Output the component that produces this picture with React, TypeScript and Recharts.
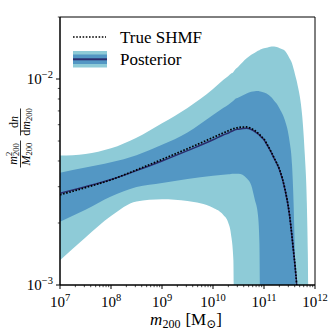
import React from 'react';
import { ComposedChart, Area, Line, XAxis, YAxis, ReferenceArea } from 'recharts';

const SERIF = "'Liberation Serif', 'DejaVu Serif', serif";
const LIGHT = '#8ecbd7';
const MID = '#5397c4';
const NAVY = '#2b2d6e';

// subhalo mass grid [Msun]
const masses = [
  1e7, 3.16e7, 1e8, 3.16e8, 1e9, 3.16e9, 1e10, 1.58e10, 2.0e10, 2.24e10,
  2.51e10, 2.63e10, 3.16e10, 4.57e10, 5.62e10, 6.61e10, 7.59e10, 8.13e10, 8.51e10, 1e11,
  1.12e11, 1.41e11, 1.58e11, 1.78e11, 2.04e11, 2.57e11, 3.16e11, 3.55e11, 3.8e11, 4.07e11,
  4.37e11, 4.57e11, 5.01e11, 5.62e11, 6.31e11, 6.92e11, 7.24e11, 7.59e11, 1e12,
];

// 95% band
const hi95 = [
  4.25e-3, 4.33e-3, 4.61e-3, 5.19e-3, 6.1e-3, 7.24e-3, 8.95e-3, 9.89e-3, 1.035e-2, 1.06e-2,
  1.08e-2, 1.1e-2, 1.15e-2, 1.26e-2, 1.31e-2, 1.34e-2, 1.37e-2, 1.38e-2, 1.39e-2, 1.41e-2,
  1.42e-2, 1.44e-2, 1.44e-2, 1.43e-2, 1.41e-2, 1.37e-2, 1.26e-2, 1.19e-2, 1.12e-2, 1.05e-2,
  9.8e-3, 9.3e-3, 8.3e-3, 6.6e-3, 4.3e-3, 2.5e-3, 1.41e-3, 5e-4, 5e-4,
];
const lo95 = [
  1.32e-3, 1.7e-3, 2.16e-3, 2.54e-3, 2.61e-3, 2.56e-3, 2.37e-3, 2.19e-3, 2.0e-3, 1.78e-3,
  1.32e-3, 5e-4, 5e-4, 5e-4, 5e-4, 5e-4, 5e-4, 5e-4, 5e-4, 5e-4,
  5e-4, 5e-4, 5e-4, 5e-4, 5e-4, 5e-4, 5e-4, 5e-4, 5e-4, 5e-4,
  5e-4, 5e-4, 5e-4, 5e-4, 5e-4, 5e-4, 5e-4, 5e-4, 5e-4,
];

// 68% band
const hi68 = [
  3.51e-3, 3.72e-3, 3.94e-3, 4.27e-3, 4.79e-3, 5.5e-3, 6.68e-3, 7.24e-3, 7.5e-3, 7.67e-3,
  7.85e-3, 7.94e-3, 8.13e-3, 8.51e-3, 8.67e-3, 8.72e-3, 8.75e-3, 8.72e-3, 8.69e-3, 8.61e-3,
  8.51e-3, 8.13e-3, 7.85e-3, 7.59e-3, 7.16e-3, 6.31e-3, 5.01e-3, 3.8e-3, 2.51e-3, 1.26e-3,
  5e-4, 5e-4, 5e-4, 5e-4, 5e-4, 5e-4, 5e-4, 5e-4, 5e-4,
];
const lo68 = [
  2.03e-3, 2.32e-3, 2.69e-3, 2.99e-3, 3.13e-3, 3.27e-3, 3.39e-3, 3.43e-3, 3.45e-3, 3.46e-3,
  3.47e-3, 3.47e-3, 3.47e-3, 3.3e-3, 3.05e-3, 2.59e-3, 2.2e-3, 1.6e-3, 5e-4, 5e-4,
  5e-4, 5e-4, 5e-4, 5e-4, 5e-4, 5e-4, 5e-4, 5e-4, 5e-4, 5e-4,
  5e-4, 5e-4, 5e-4, 5e-4, 5e-4, 5e-4, 5e-4, 5e-4, 5e-4,
];

// posterior median and true SHMF
const median = [
  2.79e-3, 3.0e-3, 3.25e-3, 3.59e-3, 4.0e-3, 4.49e-3, 5.07e-3, 5.35e-3, 5.47e-3, 5.55e-3,
  5.62e-3, 5.65e-3, 5.71e-3, 5.77e-3, 5.69e-3, 5.56e-3, 5.42e-3, 5.35e-3, 5.28e-3, 5.07e-3,
  4.84e-3, 4.37e-3, 4.12e-3, 3.89e-3, 3.59e-3, 2.92e-3, 2.19e-3, 1.7e-3, 1.45e-3, 1.23e-3,
  1.0e-3, 8.3e-4, null, null, null, null, null, null, null,
];
const truth = [
  2.74e-3, 2.97e-3, 3.24e-3, 3.62e-3, 4.07e-3, 4.59e-3, 5.2e-3, 5.47e-3, 5.61e-3, 5.68e-3,
  5.74e-3, 5.75e-3, 5.82e-3, 5.85e-3, 5.75e-3, 5.62e-3, 5.47e-3, 5.4e-3, 5.32e-3, 5.11e-3,
  4.88e-3, 4.39e-3, 4.14e-3, 3.91e-3, 3.61e-3, 2.93e-3, 2.2e-3, 1.71e-3, 1.45e-3, 1.24e-3,
  1.0e-3, 8.3e-4, null, null, null, null, null, null, null,
];

const xTicks = [1e7, 1e8, 1e9, 1e10, 1e11, 1e12].flatMap((d, i, arr) =>
  i < arr.length - 1 ? [d, 2 * d, 3 * d, 4 * d, 5 * d, 6 * d, 7 * d, 8 * d, 9 * d] : [d]
);
const yTicks = [1e-3, 2e-3, 3e-3, 4e-3, 5e-3, 6e-3, 7e-3, 8e-3, 9e-3, 1e-2, 2e-2];

const rows = masses.map((m, i) => ({
  m,
  band95: [lo95[i], hi95[i]],
  band68: [lo68[i], hi68[i]],
  median: median[i],
  truth: truth[i],
}));

const isMajor = (v: number) => {
  const lg = Math.log10(v);
  return Math.abs(lg - Math.round(lg)) < 1e-6;
};

const XTick = (props: any) => {
  const { x, y, payload } = props;
  const major = isMajor(payload.value);
  const exp = Math.round(Math.log10(payload.value));
  return (
    <g>
      <line x1={x} x2={x} y1={y} y2={y + (major ? 4 : 2.2)} stroke="#000" strokeWidth={major ? 1 : 0.7} />
      {major && (
        <text x={x} y={y + 22} textAnchor="middle" fontFamily={SERIF} fontSize={15} fill="#000">
          10<tspan dy={-6} fontSize={10.5}>{exp}</tspan>
        </text>
      )}
    </g>
  );
};

const YTick = (props: any) => {
  const { x, y, payload } = props;
  const major = isMajor(payload.value);
  const exp = Math.round(Math.log10(payload.value));
  return (
    <g>
      <line x1={x} x2={x - (major ? 4 : 2.2)} y1={y} y2={y} stroke="#000" strokeWidth={major ? 1 : 0.7} />
      {major && (
        <text x={x - 7} y={y + 5} textAnchor="end" fontFamily={SERIF} fontSize={15} fill="#000">
          10<tspan dy={-6} fontSize={10.5}>{'\u2212' + Math.abs(exp)}</tspan>
        </text>
      )}
    </g>
  );
};

// y label: (m200^2 / M200) dn/dm200, rotated
const YLabel = () => (
  <g transform="rotate(-90 18.5 138)" fontFamily={SERIF} fill="#000">
    <text x={2.5} y={136} textAnchor="middle" fontSize={12}>
      <tspan fontStyle="italic">m</tspan>
      <tspan fontSize={8.5} dy={-4.5}>2</tspan>
      <tspan fontSize={8.5} dx={-4.3} dy={7}>200</tspan>
    </text>
    <line x1={-11} x2={16} y1={140} y2={140} stroke="#000" strokeWidth={0.8} />
    <text x={2.5} y={149.5} textAnchor="middle" fontSize={12}>
      <tspan fontStyle="italic">M</tspan>
      <tspan fontSize={8.5} dy={2}>200</tspan>
    </text>
    <text x={34.5} y={137} textAnchor="middle" fontSize={12}>
      d<tspan fontStyle="italic">n</tspan>
    </text>
    <line x1={21} x2={48} y1={140} y2={140} stroke="#000" strokeWidth={0.8} />
    <text x={34.5} y={149.5} textAnchor="middle" fontSize={12}>
      d<tspan fontStyle="italic">m</tspan>
      <tspan fontSize={8.5} dy={2}>200</tspan>
    </text>
  </g>
);

export default function App() {
  return (
    <div style={{ position: 'absolute', left: 0, top: 0, width: 332, height: 332, background: '#fff' }}>
      <ComposedChart width={332} height={332} data={rows} margin={{ top: 17, right: 17, bottom: 0, left: 0 }}>
        <XAxis
          dataKey="m"
          type="number"
          scale="log"
          domain={[1e7, 1e12]}
          allowDataOverflow
          ticks={xTicks}
          interval={0}
          tick={(p: any) => <XTick {...p} />}
          tickLine={false}
          tickSize={0}
          tickMargin={0}
          axisLine={{ stroke: '#000', strokeWidth: 1 }}
          height={47}
        />
        <YAxis
          type="number"
          scale="log"
          domain={[1e-3, 2e-2]}
          allowDataOverflow
          ticks={yTicks}
          interval={0}
          tick={(p: any) => <YTick {...p} />}
          tickLine={false}
          tickSize={0}
          tickMargin={0}
          axisLine={{ stroke: '#000', strokeWidth: 1 }}
          width={60}
        />
        <Area type="monotone" dataKey="band95" stroke="none" fill={LIGHT} fillOpacity={1} isAnimationActive={false} />
        <Area type="monotone" dataKey="band68" stroke="none" fill={MID} fillOpacity={1} isAnimationActive={false} />
        <Line type="monotone" dataKey="median" stroke={NAVY} strokeWidth={1.5} dot={false} isAnimationActive={false} />
        <Line
          type="monotone"
          dataKey="truth"
          stroke="#000"
          strokeWidth={1.7}
          strokeDasharray="1.6 1.6"
          dot={false}
          isAnimationActive={false}
        />
        <ReferenceArea x1={1e7} x2={1e12} y1={1e-3} y2={2e-2} fill="none" stroke="#000" strokeWidth={1} ifOverflow="visible" />
      </ComposedChart>

      <svg width={332} height={332} style={{ position: 'absolute', left: 0, top: 0, pointerEvents: 'none' }}>
        <line x1={73} x2={106} y1={37} y2={37} stroke="#000" strokeWidth={1.7} strokeDasharray="1.6 1.6" />
        <rect x={73} y={51} width={34} height={16.5} fill={LIGHT} />
        <rect x={73} y={54.5} width={34} height={9.5} fill={MID} />
        <rect x={73} y={58.3} width={34} height={2} fill={NAVY} />
        <text x={120} y={43} fontFamily={SERIF} fontSize={17} fill="#000">True SHMF</text>
        <text x={120} y={65} fontFamily={SERIF} fontSize={17} fill="#000">Posterior</text>
        <text x={186} y={325} textAnchor="middle" fontFamily={SERIF} fontSize={17} fill="#000">
          <tspan fontStyle="italic">m</tspan>
          <tspan fontSize={12} dy={3}>200</tspan>
          <tspan dy={-3} dx={5}>[M</tspan>
          <tspan fontSize={12} dy={3}>{'\u2299'}</tspan>
          <tspan dy={-3}>]</tspan>
        </text>
        <YLabel />
      </svg>
    </div>
  );
}
